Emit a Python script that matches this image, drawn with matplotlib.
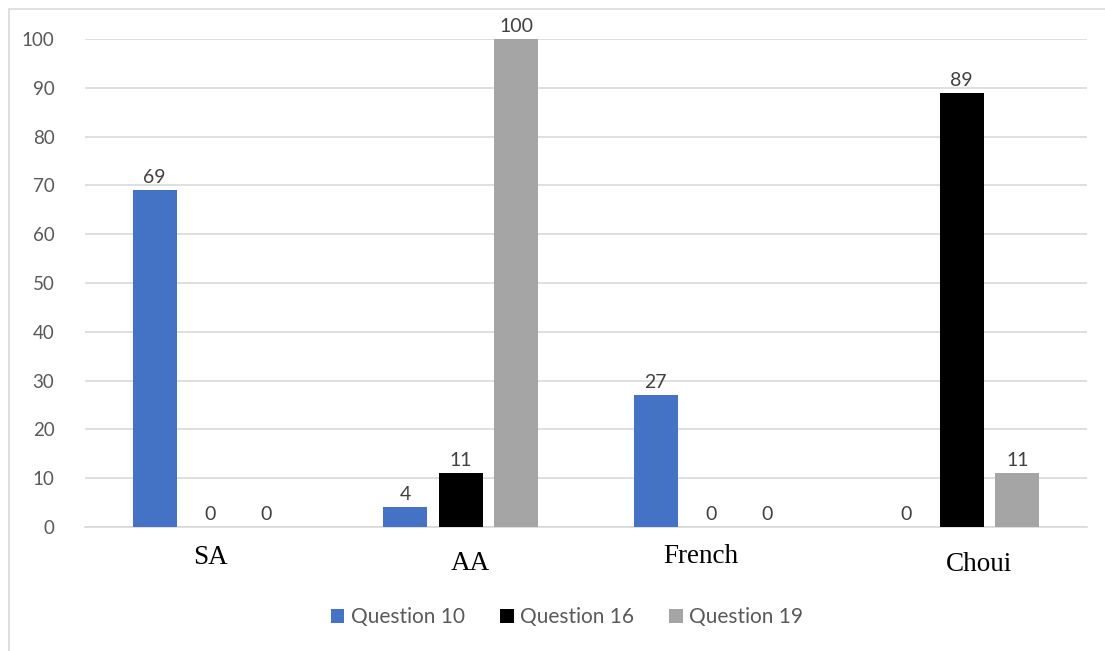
import numpy as np
import matplotlib.pyplot as plt
from matplotlib.patches import Rectangle

categories = ["SA", "AA", "French", "Choui"]
series = ["Question 10", "Question 16", "Question 19"]
q10 = [69, 4, 27, 0]
q16 = [0, 11, 0, 89]
q19 = [0, 100, 0, 11]
colors = ["#4472C4", "#000000", "#A5A5A5"]

# hand-set nudges for the category labels (data units, points)
label_dx = [0.0, 0.04, -0.04, 0.07]
label_dy = [-22, -26, -21, -27]

fig = plt.figure(figsize=(11.05, 6.51), dpi=100)
ax = fig.add_axes([85 / 1105, 1 - 527 / 651, 1002 / 1105, 488 / 651])

# thin chart-area frame (top and left edges)
fig.patches.append(Rectangle((9 / 1105, -0.1), 1.2, 1 - 9 / 651 + 0.1,
                             transform=fig.transFigure, fill=False,
                             edgecolor="#d9d9d9", lw=1.2))

x = np.arange(len(categories))
width = 0.176
step = 0.222
for i, (vals, name, c) in enumerate(zip([q10, q16, q19], series, colors)):
    pos = x + (i - 1) * step
    ax.bar(pos, vals, width, color=c, label=name, zorder=3)
    for xp, v in zip(pos, vals):
        ax.annotate(f"{v}", xy=(xp, v), xytext=(0, 3), textcoords="offset points",
                    ha="center", va="bottom", fontsize=14, color="#404040",
                    family="Lato", zorder=4)

ax.set_xlim(-0.5, 3.5)
ax.set_ylim(0, 100)
ax.set_yticks(np.arange(0, 101, 10))
ax.yaxis.grid(True, color="#d9d9d9", lw=1.2, zorder=0)
ax.set_axisbelow(True)
for s in ["top", "right", "left"]:
    ax.spines[s].set_visible(False)
ax.spines["bottom"].set_color("#d9d9d9")
ax.spines["bottom"].set_linewidth(1.2)
ax.tick_params(axis="y", length=0, pad=22, labelsize=13.5, labelcolor="#595959")
for t in ax.get_yticklabels():
    t.set_family("Lato")
ax.set_xticks([])

for xi, name, dx, dy in zip(x, categories, label_dx, label_dy):
    ax.annotate(name, xy=(xi + dx, 0), xytext=(0, dy), textcoords="offset points",
                ha="center", va="center", fontsize=19.5, family="Liberation Serif",
                color="#000000", annotation_clip=False)

leg = fig.legend(loc="center", bbox_to_anchor=(567 / 1105, 1 - 617 / 651), ncol=3,
                 frameon=False, handlelength=0.65, handleheight=0.65,
                 handletextpad=0.3, columnspacing=1.7, prop={"family": "Lato", "size": 15})
for t in leg.get_texts():
    t.set_color("#595959")

fig.savefig("out.png", dpi=100)
